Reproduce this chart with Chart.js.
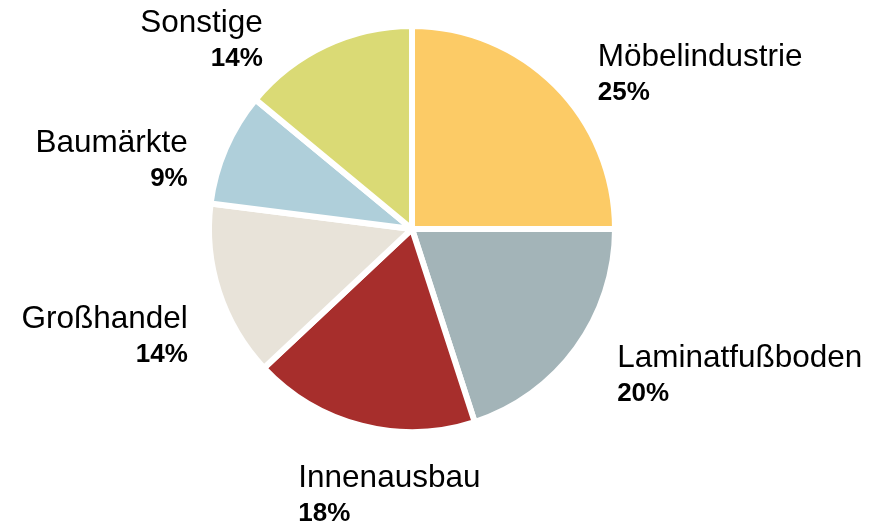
<!DOCTYPE html>
<html>
<head>
<meta charset="utf-8">
<script src="https://cdn.jsdelivr.net/npm/chart.js@4/dist/chart.umd.min.js"></script>
<style>
  html, body { margin: 0; padding: 0; background: #fff; }
  #wrap { width: 878px; height: 523px; position: relative; }
</style>
</head>
<body>
<div id="wrap"><canvas id="pie"></canvas></div>
<script>
// Abnehmerstruktur (Anteile in %)
const categories = ['Möbelindustrie', 'Laminatfußboden', 'Innenausbau', 'Großhandel', 'Baumärkte', 'Sonstige'];
const shares = [25, 20, 18, 14, 9, 14];
const sliceColors = ['#FCCB66', '#A3B4B8', '#A72E2C', '#E8E3D9', '#AFCFDA', '#DADA75'];

// small per-label shifts from the automatic outside placement
const labelNudge = [[16, 13], [11, 3], [-54, 32], [4, 31], [-4, 25], [-47, 27]];

const FONT = '"Liberation Sans", Arial, sans-serif';

const outsideLabels = {
    id: 'outsideLabels',
    afterDatasetsDraw(chart) {
        const ctx = chart.ctx;
        const meta = chart.getDatasetMeta(0);
        ctx.save();
        ctx.fillStyle = '#000';
        ctx.textBaseline = 'alphabetic';
        meta.data.forEach((arc, i) => {
            const { x, y, startAngle, endAngle, outerRadius } = arc.getProps(['x', 'y', 'startAngle', 'endAngle', 'outerRadius'], true);
            const mid = (startAngle + endAngle) / 2;
            const ux = Math.cos(mid);
            const uy = Math.sin(mid);
            const d = outerRadius + 37;
            const px = x + ux * d + labelNudge[i][0];
            const py = y + uy * d + labelNudge[i][1];
            ctx.textAlign = ux > -0.3 ? 'left' : 'right';
            const nameBase = py - 6.5;
            ctx.font = '31.5px ' + FONT;
            ctx.fillText(categories[i], px, nameBase);
            ctx.font = 'bold 26px ' + FONT;
            ctx.fillText(shares[i] + '%', px, nameBase + 34);
        });
        ctx.restore();
    }
};

new Chart(document.getElementById('pie'), {
    type: 'pie',
    data: {
        labels: categories,
        datasets: [{
            data: shares,
            backgroundColor: sliceColors,
            borderColor: '#fff',
            borderWidth: 6,
            hoverBorderWidth: 6,
            hoverOffset: 0
        }]
    },
    options: {
        responsive: true,
        maintainAspectRatio: false,
        animation: false,
        events: [],
        layout: { padding: { top: 23, bottom: 88, left: 100, right: 154 } },
        plugins: {
            legend: { display: false },
            tooltip: { enabled: false }
        }
    },
    plugins: [outsideLabels]
});
</script>
</body>
</html>
